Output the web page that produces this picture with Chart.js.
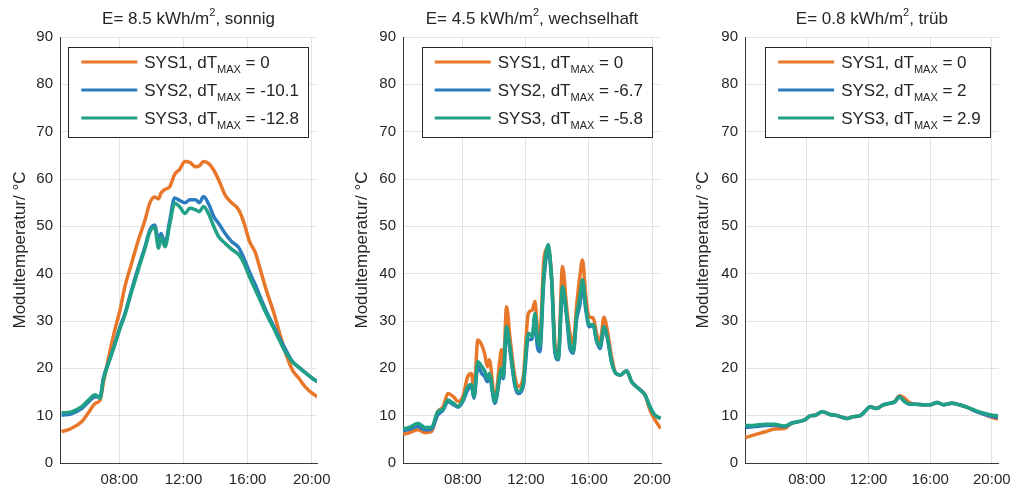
<!DOCTYPE html>
<html>
<head>
<meta charset="utf-8">
<script src="https://cdn.jsdelivr.net/npm/chart.js@4"></script>
<style>
  body { margin: 0; background: #fff; }
  #wrap { position: relative; width: 1019px; height: 490px; }
  #wrap canvas { position: absolute; top: 0; }
</style>
</head>
<body>
<div id="wrap">
  <canvas id="c1" width="340" height="490" style="left:0px"></canvas>
  <canvas id="c2" width="340" height="490" style="left:340px"></canvas>
  <canvas id="c3" width="339" height="490" style="left:680px"></canvas>
</div>
<script>
// time of day in hours
const hours1 = [4.4, 5.0, 5.65, 6.05, 6.5, 6.8, 7.0, 7.3, 7.7, 8.05, 8.35, 8.75, 9.2, 9.6, 9.9, 10.2, 10.45, 10.6, 10.85, 11.15, 11.45, 11.75, 12.1, 12.4, 12.75, 13.0, 13.25, 13.6, 13.9, 14.2, 14.6, 15.0, 15.45, 15.8, 16.1, 16.5, 16.8, 17.2, 17.65, 18.05, 18.4, 18.8, 19.2, 19.6, 20.0, 20.35];
const sys1Day1 = [6.6, 7.3, 8.7, 10.5, 12.6, 13.3, 16.8, 21.8, 27.8, 32.4, 37.3, 42.0, 47.2, 51.3, 54.9, 56.2, 55.8, 57.0, 57.8, 58.4, 61.0, 62.0, 63.7, 63.5, 62.6, 62.8, 63.7, 63.2, 61.8, 59.8, 56.6, 55.0, 53.5, 50.5, 47.0, 44.3, 40.8, 36.2, 31.6, 26.8, 23.0, 19.6, 17.9, 16.1, 14.8, 14.0];
const sys2Day1 = [10.1, 10.4, 11.5, 12.8, 14.0, 14.0, 17.9, 21.0, 25.0, 28.8, 31.6, 36.4, 41.5, 45.7, 49.2, 50.3, 47.0, 48.5, 46.4, 51.3, 56.0, 55.5, 55.0, 55.6, 55.6, 55.0, 56.3, 54.5, 52.0, 50.6, 48.5, 46.8, 45.5, 43.0, 40.5, 37.5, 35.0, 31.8, 28.8, 26.0, 23.8, 21.4, 20.2, 19.1, 18.0, 17.2];
const sys3Day1 = [10.6, 10.8, 11.9, 13.2, 14.4, 13.7, 17.5, 20.8, 24.8, 28.5, 31.3, 36.0, 41.0, 45.3, 48.8, 49.8, 45.4, 47.8, 45.7, 50.5, 54.9, 54.2, 52.7, 53.8, 53.5, 53.1, 54.2, 52.4, 49.9, 47.8, 46.4, 45.2, 44.0, 42.0, 39.5, 36.5, 34.3, 31.3, 28.3, 25.5, 23.2, 21.4, 20.2, 19.1, 18.0, 17.2];

const hours2 = [4.2, 4.6, 5.15, 5.6, 6.0, 6.4, 6.75, 7.05, 7.4, 7.7, 8.0, 8.3, 8.55, 8.7, 8.95, 9.2, 9.4, 9.55, 9.68, 10.03, 10.35, 10.45, 10.56, 10.77, 10.98, 11.3, 11.5, 11.83, 12.15, 12.4, 12.57, 12.72, 12.88, 13.14, 13.41, 13.63, 13.84, 14.05, 14.32, 14.58, 14.79, 15.0, 15.21, 15.42, 15.59, 15.8, 16.02, 16.27, 16.48, 16.7, 16.95, 17.16, 17.43, 17.71, 18.0, 18.39, 18.7, 19.13, 19.55, 19.87, 20.19, 20.55];
const sys1Day2 = [6.1, 6.4, 7.0, 6.4, 6.6, 10.8, 11.9, 14.7, 14.0, 13.0, 14.0, 18.2, 18.9, 14.7, 26.0, 24.9, 22.8, 20.4, 21.8, 13.3, 21.8, 23.9, 19.6, 33.0, 26.7, 18.2, 16.1, 18.2, 31.6, 32.3, 34.1, 28.8, 26.7, 42.9, 45.4, 39.4, 25.3, 22.5, 41.5, 33.0, 27.4, 25.3, 33.0, 39.4, 42.9, 35.1, 30.9, 30.6, 27.4, 25.3, 30.8, 28.1, 22.5, 18.9, 18.6, 19.5, 17.2, 15.8, 14.4, 11.2, 9.1, 7.3];
const sys2Day2 = [6.8, 7.1, 7.7, 7.0, 7.1, 10.1, 11.2, 13.0, 12.3, 11.8, 13.0, 15.4, 16.1, 13.7, 20.4, 18.9, 18.2, 17.2, 18.2, 12.6, 18.2, 19.4, 17.8, 28.1, 24.0, 16.3, 14.7, 16.3, 26.0, 26.2, 30.9, 24.6, 23.5, 38.7, 45.0, 38.7, 23.2, 21.8, 36.5, 31.0, 24.2, 23.2, 30.2, 33.4, 37.6, 32.3, 28.8, 29.0, 25.8, 24.2, 28.1, 26.5, 21.4, 18.9, 18.6, 19.5, 17.2, 15.8, 14.4, 11.9, 10.1, 9.4];
const sys3Day2 = [7.2, 7.5, 8.4, 7.5, 7.5, 10.8, 11.4, 13.3, 12.6, 12.0, 13.3, 16.1, 16.6, 14.0, 21.4, 20.4, 19.3, 17.9, 18.9, 13.0, 18.9, 20.0, 18.2, 28.8, 24.6, 16.8, 15.1, 16.8, 27.4, 26.7, 31.6, 26.7, 24.6, 40.1, 46.1, 38.7, 23.9, 22.1, 37.3, 31.6, 25.3, 23.5, 30.9, 35.1, 38.7, 33.0, 29.2, 29.2, 26.0, 24.6, 28.8, 26.7, 21.4, 18.9, 18.6, 19.5, 17.2, 15.8, 14.4, 11.9, 10.1, 9.4];

const hours3 = [4.0, 4.65, 5.3, 5.9, 6.55, 7.0, 7.4, 7.85, 8.25, 8.55, 9.0, 9.45, 9.95, 10.6, 11.0, 11.45, 11.85, 12.1, 12.5, 12.95, 13.35, 13.7, 14.0, 14.3, 14.65, 15.05, 15.6, 16.0, 16.45, 16.85, 17.4, 17.9, 18.45, 19.0, 19.5, 20.05, 20.4];
const sys1Day3 = [5.35, 6.0, 6.6, 7.2, 7.3, 8.4, 8.7, 9.1, 10.0, 10.1, 10.85, 10.3, 10.0, 9.4, 9.8, 10.0, 11.2, 11.9, 11.5, 12.3, 12.6, 13.0, 14.2, 13.8, 12.8, 12.4, 12.3, 12.3, 12.8, 12.3, 12.6, 12.3, 11.7, 10.9, 10.3, 9.6, 9.3];
const sys2Day3 = [7.5, 7.7, 7.9, 8.0, 7.7, 8.4, 8.7, 9.1, 10.0, 10.1, 10.85, 10.3, 10.0, 9.4, 9.8, 10.0, 11.2, 11.9, 11.5, 12.3, 12.6, 12.9, 14.0, 13.1, 12.4, 12.4, 12.3, 12.3, 12.8, 12.3, 12.6, 12.3, 11.7, 10.85, 10.3, 9.8, 9.6];
const sys3Day3 = [7.9, 8.0, 8.2, 8.2, 7.8, 8.4, 8.7, 9.1, 10.0, 10.1, 10.85, 10.3, 10.0, 9.4, 9.8, 10.0, 11.2, 11.9, 11.5, 12.3, 12.6, 13.0, 14.0, 13.1, 12.4, 12.4, 12.3, 12.3, 12.8, 12.3, 12.6, 12.3, 11.7, 11.0, 10.5, 10.1, 10.0];

const dtMax1 = [0, -10.1, -12.8];
const dtMax2 = [0, -6.7, -5.8];
const dtMax3 = [0, 2, 2.9];
const energy = [8.5, 4.5, 0.8];
const weather = ['sonnig', 'wechselhaft', 'trüb'];
const xTicks = [8, 12, 16, 20];
const sysColors = ['#e8772a', '#2b7bbf', '#20a087'];

const FONT = '"Liberation Sans", Arial, Helvetica, sans-serif';
const TXT = '#262626';
Chart.defaults.font.family = FONT;
Chart.defaults.color = TXT;

// title with superscript and legend with subscript, drawn on the canvas
const panelDeco = {
  id: 'panelDeco',
  afterDraw(chart, args, opts) {
    const ctx = chart.ctx, a = chart.chartArea;
    ctx.save();
    ctx.fillStyle = TXT;
    ctx.textBaseline = 'alphabetic';
    ctx.textAlign = 'left';

    // title
    const big = '17px ' + FONT, small = '11px ' + FONT;
    const p1 = 'E= ' + opts.energy + ' kWh/m', p2 = '2', p3 = ', ' + opts.weather;
    ctx.font = big;
    const w1 = ctx.measureText(p1).width, w3 = ctx.measureText(p3).width;
    ctx.font = small;
    const w2 = ctx.measureText(p2).width;
    let x = (a.left + a.right) / 2 - (w1 + w2 + w3) / 2;
    const by = 24;
    ctx.font = big; ctx.fillText(p1, x, by); x += w1;
    ctx.font = small; ctx.fillText(p2, x, by - 8); x += w2;
    ctx.font = big; ctx.fillText(p3, x, by);

    // legend
    const lf = '17px ' + FONT, sf = '11px ' + FONT;
    const rows = chart.data.datasets.map((ds, i) => ({
      main: 'SYS' + (i + 1) + ', dT', sub: 'MAX', rest: ' = ' + opts.dt[i], color: ds.borderColor
    }));
    let maxW = 0;
    rows.forEach(r => {
      ctx.font = lf; r.wm = ctx.measureText(r.main).width; r.wr = ctx.measureText(r.rest).width;
      ctx.font = sf; r.ws = ctx.measureText(r.sub).width;
      maxW = Math.max(maxW, r.wm + r.ws + r.wr);
    });
    const bw = 13 + 56 + 7 + maxW + 9, bh = 90;
    const bx = a.right - 9 - bw, byy = a.top + 10;
    ctx.fillStyle = '#fff';
    ctx.fillRect(bx, byy, bw, bh);
    ctx.strokeStyle = '#262626';
    ctx.lineWidth = 1;
    ctx.strokeRect(Math.round(bx) + 0.5, Math.round(byy) + 0.5, Math.round(bw), bh);
    rows.forEach((r, i) => {
      const cy = byy + 15 + i * 28;
      ctx.strokeStyle = r.color;
      ctx.lineWidth = 3;
      ctx.beginPath();
      ctx.moveTo(bx + 13, cy); ctx.lineTo(bx + 69, cy);
      ctx.stroke();
      ctx.fillStyle = TXT;
      let tx = bx + 76;
      ctx.font = lf; ctx.fillText(r.main, tx, cy + 6); tx += r.wm;
      ctx.font = sf; ctx.fillText(r.sub, tx, cy + 11); tx += r.ws;
      ctx.font = lf; ctx.fillText(r.rest, tx, cy + 6);
    });
    ctx.restore();
  }
};

function pts(hours, vals) {
  return hours.map((h, i) => ({ x: h, y: vals[i] }));
}

function makePanel(id, hours, series, dt, idx, xMin, xMax, axisW, padRight, titlePad) {
  new Chart(document.getElementById(id), {
    type: 'line',
    data: {
      datasets: series.map((vals, i) => ({
        label: 'SYS' + (i + 1),
        data: pts(hours, vals),
        borderColor: sysColors[i],
        borderWidth: 3.5,
        pointRadius: 0,
        cubicInterpolationMode: 'monotone',
        fill: false,
        order: 3 - i
      }))
    },
    options: {
      responsive: false,
      animation: false,
      events: [],
      layout: { padding: { top: 37, right: padRight, left: 0, bottom: 0 } },
      plugins: {
        legend: { display: false },
        tooltip: { enabled: false },
        panelDeco: { energy: energy[idx], weather: weather[idx], dt: dt }
      },
      scales: {
        x: {
          type: 'linear',
          min: xMin,
          max: xMax,
          afterBuildTicks: s => { s.ticks = xTicks.map(v => ({ value: v })); },
          afterFit: s => { s.height = 27; },
          ticks: {
            font: { size: 15 },
            color: TXT,
            padding: 8,
            maxRotation: 0,
            callback: v => String(v).padStart(2, '0') + ':00'
          },
          grid: { color: '#e3e3e3', drawTicks: false },
          border: { color: '#3a3a3a' }
        },
        y: {
          min: 0,
          max: 90,
          afterFit: s => { s.width = axisW; },
          ticks: { stepSize: 10, font: { size: 15 }, color: TXT, padding: 7 },
          grid: { color: '#e3e3e3', drawTicks: false },
          border: { color: '#3a3a3a' },
          title: {
            display: true,
            text: 'Modultemperatur/ °C',
            font: { size: 17 },
            color: TXT,
            padding: { top: titlePad, bottom: 0 }
          }
        }
      }
    },
    plugins: [panelDeco]
  });
}

makePanel('c1', hours1, [sys1Day1, sys2Day1, sys3Day1], dtMax1, 0, 4.3, 20.33, 60, 23, 10);
makePanel('c2', hours2, [sys1Day2, sys2Day2, sys3Day2], dtMax2, 1, 4.2, 20.57, 63, 19, 12);
makePanel('c3', hours3, [sys1Day3, sys2Day3, sys3Day3], dtMax3, 2, 3.98, 20.45, 65, 16, 13);
</script>
</body>
</html>
